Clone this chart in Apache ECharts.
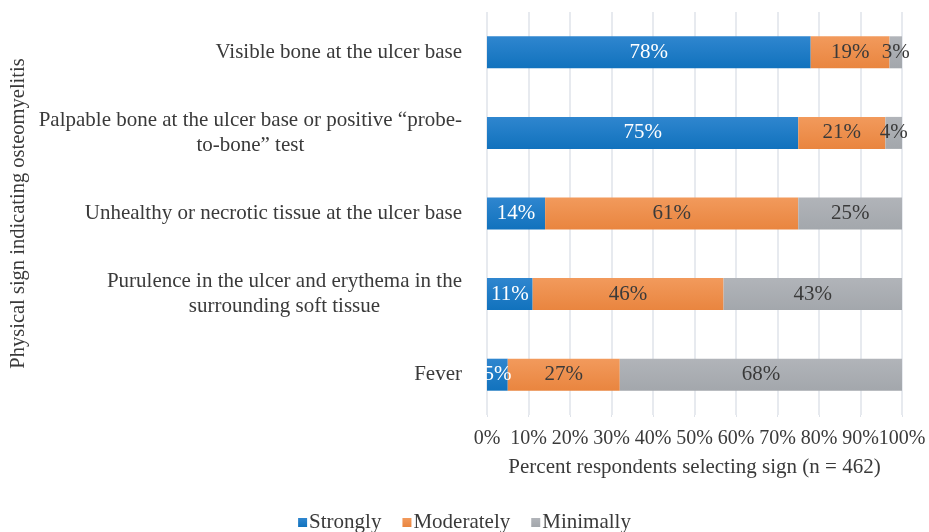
<!DOCTYPE html>
<html>
<head>
<meta charset="utf-8">
<script src="https://cdn.jsdelivr.net/npm/echarts@6/dist/echarts.min.js"></script>
<style>
  html, body { margin: 0; padding: 0; background: #fff; }
  #chart { width: 929px; height: 532px; }
</style>
</head>
<body>
<div id="chart"></div>
<script>
// Physical signs, top to bottom
const categories = [
  'Visible bone at the ulcer base',
  'Palpable bone at the ulcer base or positive \u201cprobe-\nto-bone\u201d test',
  'Unhealthy or necrotic tissue at the ulcer base',
  'Purulence in the ulcer and erythema in the\nsurrounding soft tissue',
  'Fever'
];
const strongly   = [78, 75, 14, 11, 5];
const moderately = [19, 21, 61, 46, 27];
const minimally  = [3, 4, 25, 43, 68];
const seriesNames = ['Strongly', 'Moderately', 'Minimally'];
const xTicks = [0, 10, 20, 30, 40, 50, 60, 70, 80, 90, 100];

const FONT = '"Liberation Serif", "DejaVu Serif", serif';
const TEXT = '#3a3a3a';
const FS = 21;

function grad(top, bottom) {
  return new echarts.graphic.LinearGradient(0, 0, 0, 1, [
    { offset: 0, color: top },
    { offset: 1, color: bottom }
  ]);
}

const colors = [
  grad('#2f86cf', '#1172bd'),
  grad('#f29a5c', '#e9853f'),
  grad('#b1b4b9', '#a3a7ac')
];
const legendColors = ['#1f7bc6', '#ef8d4b', '#a8abb0'];
const labelColors = ['#ffffff', '#3a3a3a', '#3a3a3a'];
const values = [strongly, moderately, minimally];

const chart = echarts.init(document.getElementById('chart'), null, { renderer: 'canvas' });

const series = seriesNames.map((name, i) => ({
  name: name,
  type: 'bar',
  stack: 'total',
  barWidth: 32,
  data: values[i],
  itemStyle: { color: colors[i] },
  label: {
    show: true,
    position: 'inside',
    formatter: '{c}%',
    color: labelColors[i],
    fontFamily: FONT,
    fontSize: FS
  },
  emphasis: { disabled: true }
}));

chart.setOption({
  animation: false,
  color: legendColors,
  grid: { left: 487, right: 27, top: 12, bottom: 117 },
  xAxis: {
    type: 'value',
    min: xTicks[0],
    max: xTicks[xTicks.length - 1],
    interval: 10,
    name: 'Percent respondents selecting sign (n = 462)',
    nameLocation: 'middle',
    nameGap: 42,
    nameTextStyle: { fontFamily: FONT, fontSize: FS, color: TEXT },
    axisLine: { show: false },
    axisTick: { show: true, length: 2, lineStyle: { color: '#dfe3ea' } },
    splitLine: { show: true, lineStyle: { color: '#dfe3ea', width: 1.5 } },
    axisLabel: {
      formatter: '{value}%',
      fontFamily: FONT,
      fontSize: 20,
      color: TEXT,
      margin: 14
    }
  },
  yAxis: {
    type: 'category',
    data: categories,
    inverse: true,
    name: 'Physical sign indicating osteomyelitis',
    nameLocation: 'middle',
    nameRotate: 90,
    nameGap: 458,
    nameTextStyle: { fontFamily: FONT, fontSize: 20.5, color: TEXT },
    axisLine: { show: false },
    axisTick: { show: false },
    axisLabel: {
      margin: 25,
      align: 'right',
      fontFamily: FONT,
      fontSize: FS,
      color: TEXT,
      lineHeight: 25,
      formatter: function (v) {
        return v.split('\n').map(function (line) { return '{c|' + line + '}'; }).join('\n');
      },
      rich: {
        c: { align: 'center', fontFamily: FONT, fontSize: FS, color: TEXT, lineHeight: 25 }
      }
    }
  },
  legend: {
    top: 507,
    left: 'center',
    itemWidth: 9,
    itemHeight: 9,
    itemGap: 21,
    icon: 'rect',
    textStyle: { fontFamily: FONT, fontSize: FS, color: TEXT, padding: [0, 0, 0, -3] },
    data: seriesNames
  },
  series: series
});
</script>
</body>
</html>
